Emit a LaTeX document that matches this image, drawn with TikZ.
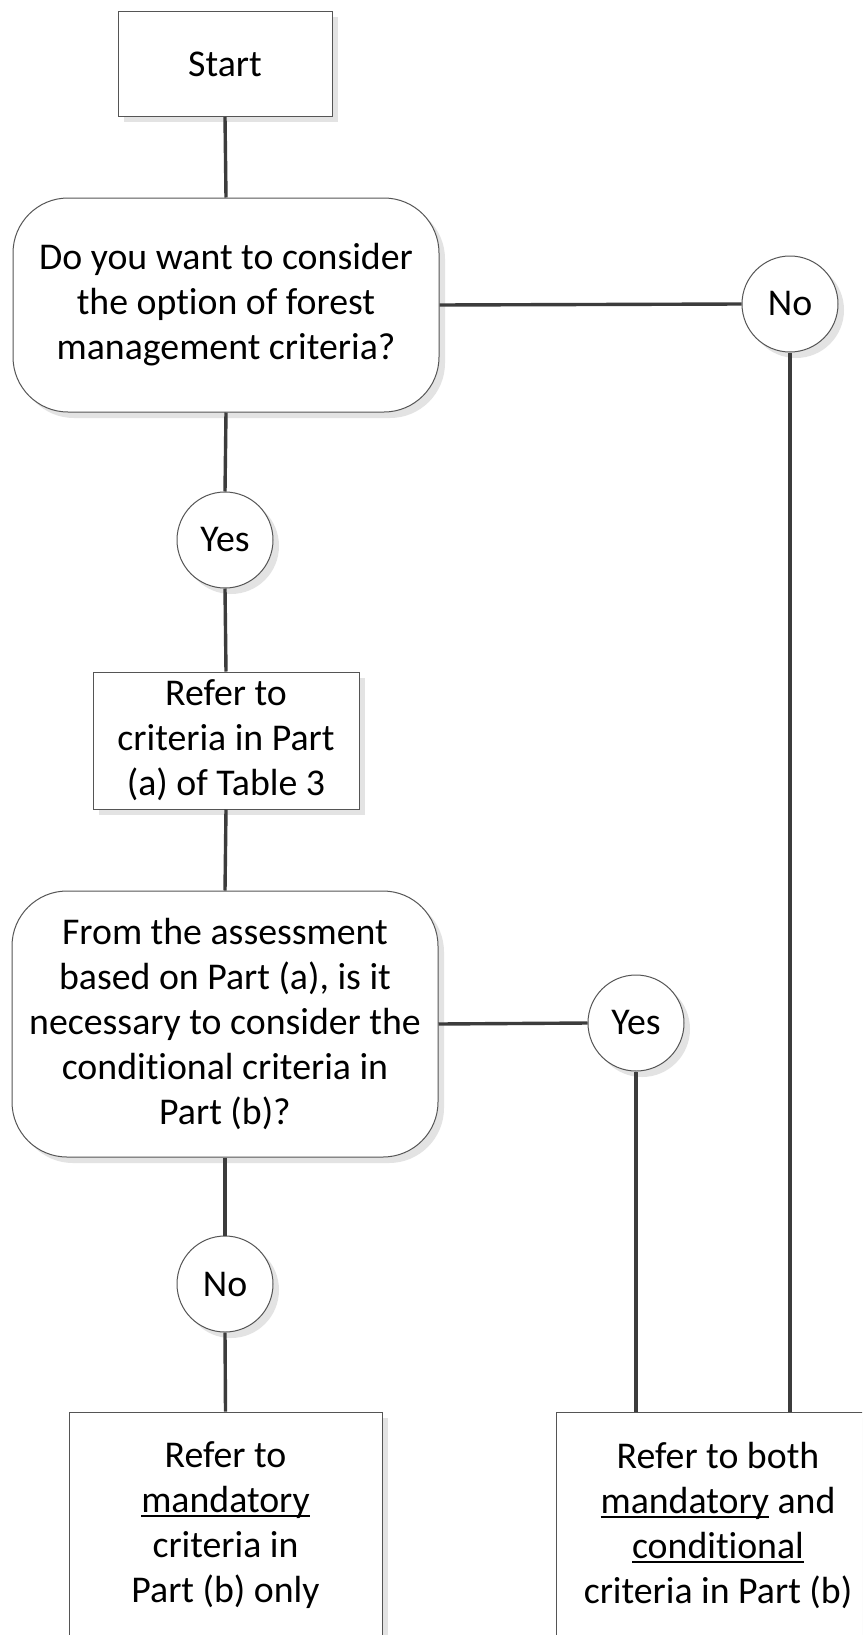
\documentclass[tikz,border=0pt]{standalone}
\usepackage{fontspec}
\setmainfont{Carlito}[Ligatures=NoCommon]
\usetikzlibrary{shadows}
\definecolor{edgegray}{HTML}{555555}
\definecolor{linkgray}{HTML}{3C3C3C}
\definecolor{shadowgray}{HTML}{E3E3E3}
\newcommand\myul[1]{\setbox0\hbox{#1}\rlap{\rule[-4.5pt]{\wd0}{1.8pt}}\box0\relax}
\tikzset{
  x=1pt, y=-1pt,
  base/.style={draw=edgegray, line width=1pt, fill=white, align=center, inner sep=0pt,
    font=\fontsize{37.8}{45}\selectfont,
    drop shadow={shadow xshift=6pt, shadow yshift=-6pt, fill=shadowgray, opacity=1}},
  boxnode/.style={base, rectangle},
  decnode/.style={base, rectangle, rounded corners=55pt, minimum width=426pt},
  circnode/.style={base, circle, minimum size=96pt},
  link/.style={draw=linkgray, line width=3.4pt}
}
\begin{document}
\begin{tikzpicture}
\useasboundingbox (0,0) rectangle (862,1635);
\clip (0,0) rectangle (862,1635);
\fill[white] (0,0) rectangle (862,1635);
\node[boxnode, minimum width=214pt, minimum height=105pt] (start) at (225,64) {Start};
\node[decnode, minimum height=214pt] (dec1) at (226,305) {Do you want to consider\\the option of forest\\management criteria?};
\node[circnode] (no1) at (790,304) {No};
\node[circnode] (yes1) at (225,540) {Yes};
\node[boxnode, minimum width=266pt, minimum height=137pt] (refer) at (226,740.5) {Refer to\\criteria in Part\\(a) of Table 3};
\node[decnode, minimum height=266pt] (dec2) at (225,1024) {From the assessment\\based on Part (a), is it\\necessary to consider the\\conditional criteria in\\Part (b)?};
\node[circnode] (yes2) at (636,1023) {Yes};
\node[circnode] (no2) at (225,1284) {No};
\node[boxnode, minimum width=313pt, minimum height=226pt] (bl) at (225.5,1525) {Refer to\\\myul{mandatory}\\criteria in\\Part (b) only};
\node[boxnode, minimum width=324pt, minimum height=226pt] (br) at (718,1525) {Refer to both\\\myul{mandatory} and\\\myul{conditional}\\criteria in Part (b)};
\draw[link] (start.south) -- (dec1.north);
\draw[link] (dec1.east) -- (no1.west);
\draw[link] (no1.south) -- (no1.south |- br.north);
\draw[link] (dec1.south) -- (yes1.north);
\draw[link] (yes1.south) -- (refer.north);
\draw[link] (refer.south) -- (dec2.north);
\draw[link] (dec2.east) -- (yes2.west);
\draw[link] (yes2.south) -- (yes2.south |- br.north);
\draw[link] (dec2.south) -- (no2.north);
\draw[link] (no2.south) -- (bl.north);
\end{tikzpicture}
\end{document}
